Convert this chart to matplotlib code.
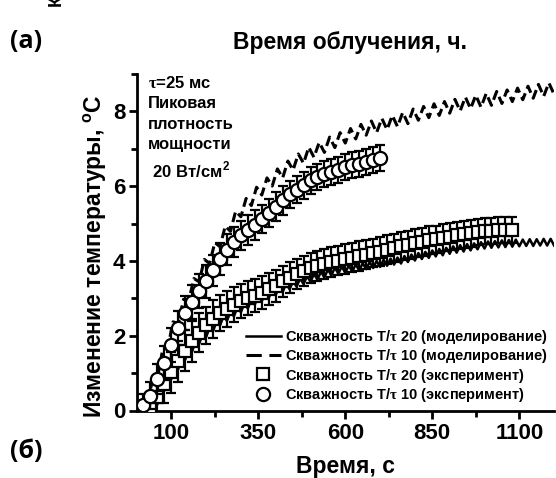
import numpy as np
import matplotlib
matplotlib.use('Agg')
import matplotlib.pyplot as plt
from matplotlib.lines import Line2D
from matplotlib.ticker import MultipleLocator, FixedLocator

plt.rcParams['font.family'] = ['Liberation Sans', 'DejaVu Sans']
plt.rcParams['font.weight'] = 'bold'
plt.rcParams['mathtext.fontset'] = 'custom'
plt.rcParams['mathtext.rm'] = 'Liberation Serif'
plt.rcParams['mathtext.bf'] = 'Liberation Sans:bold'

# --- experiment, T/tau = 10 (circles) ---
t_exp10 = [20, 40, 60, 80, 100, 120, 140, 160, 180, 200, 220, 240, 260, 280, 300,
           320, 340, 360, 380, 400, 420, 440, 460, 480, 500, 520, 540, 560, 580, 600,
           620, 640, 660, 680, 700]
dT_exp10 = [0.15, 0.40, 0.85, 1.27, 1.75, 2.20, 2.60, 2.90, 3.20, 3.45, 3.75, 4.05, 4.30, 4.50, 4.68,
            4.82, 4.95, 5.12, 5.28, 5.45, 5.62, 5.78, 5.90, 6.02, 6.15, 6.24, 6.32, 6.38, 6.44, 6.50,
            6.56, 6.60, 6.65, 6.70, 6.75]
err_exp10 = [0.30, 0.35, 0.40, 0.45, 0.45, 0.45, 0.45, 0.45, 0.45, 0.45, 0.42, 0.42, 0.42, 0.40, 0.40,
             0.40, 0.40, 0.38, 0.38, 0.38, 0.38, 0.36, 0.36, 0.36, 0.36, 0.35, 0.35, 0.35, 0.35, 0.35,
             0.35, 0.35, 0.35, 0.35, 0.35]

# --- experiment, T/tau = 20 (squares) ---
t_exp20 = [40, 60, 80, 100, 120, 140, 160, 180, 200, 220, 240, 260, 280, 300, 320, 340, 360, 380,
           400, 420, 440, 460, 480, 500, 520, 540, 560, 580, 600, 620, 640, 660, 680, 700, 720,
           740, 760, 780, 800, 820, 840, 860, 880, 900, 920, 940, 960, 980, 1000, 1020, 1040,
           1060, 1080]
dT_exp20 = [0.05, 0.35, 0.70, 1.02, 1.32, 1.60, 1.85, 2.08, 2.28, 2.45, 2.60, 2.72, 2.83, 2.92, 3.00,
            3.07, 3.15, 3.24, 3.33, 3.45, 3.55, 3.65, 3.73, 3.80, 3.86, 3.91, 3.96, 4.00, 4.05, 4.09,
            4.13, 4.17, 4.21, 4.25, 4.30, 4.35, 4.39, 4.43, 4.47, 4.51, 4.55, 4.58, 4.62, 4.65, 4.68,
            4.71, 4.74, 4.77, 4.79, 4.80, 4.82, 4.83, 4.83]
err_exp20 = [0.30, 0.40, 0.50, 0.55, 0.55, 0.55, 0.55, 0.52, 0.50, 0.50, 0.48, 0.48, 0.46, 0.45, 0.45,
             0.44, 0.44, 0.43, 0.43, 0.42, 0.42, 0.41, 0.41, 0.40, 0.40, 0.40, 0.40, 0.39, 0.39, 0.39,
             0.39, 0.38, 0.38, 0.38, 0.38, 0.38, 0.37, 0.37, 0.37, 0.37, 0.37, 0.36, 0.36, 0.36, 0.36,
             0.36, 0.36, 0.35, 0.35, 0.35, 0.35, 0.35, 0.35]

# --- simulation, T/tau = 20 (solid sawtooth), sampled every 10 s from 0 to 1200 ---
t_sim20 = np.arange(0, 1201, 10)
dT_sim20 = [0, 0, 0, 0, 0,
            0.19, 0.16, 0.54, 0.53, 0.87, 0.84, 1.16, 1.11, 1.42, 1.36, 1.65, 1.58, 1.86, 1.78, 2.05, 1.96,
            2.22, 2.12, 2.38, 2.27, 2.52, 2.40, 2.64, 2.52, 2.76, 2.63, 2.86, 2.73, 2.96, 2.83, 3.06, 2.92,
            3.15, 3.01, 3.23, 3.09, 3.31, 3.17, 3.39, 3.24, 3.46, 3.31, 3.53, 3.38, 3.59, 3.44, 3.65, 3.50,
            3.71, 3.56, 3.77, 3.61, 3.82, 3.66, 3.85, 3.68, 3.88, 3.71, 3.91, 3.74, 3.94, 3.78, 3.97, 3.81,
            4.00, 3.84, 4.03, 3.87, 4.06, 3.90, 4.09, 3.93, 4.13, 3.97, 4.17, 4.01, 4.21, 4.05, 4.24, 4.08,
            4.28, 4.12, 4.32, 4.15, 4.35, 4.19, 4.39, 4.22, 4.42, 4.25, 4.45, 4.28, 4.47, 4.31, 4.50, 4.33,
            4.52, 4.35, 4.53, 4.36, 4.55, 4.37, 4.56, 4.38, 4.57, 4.39, 4.57, 4.40, 4.58, 4.40, 4.58, 4.41,
            4.59, 4.41, 4.59, 4.41]

# --- simulation, T/tau = 10 (dashed sawtooth), sampled every 15 s from 0 to 1200 ---
t_sim10 = np.arange(0, 1201, 15)
dT_sim10 = [0, 0, 0.20, 0.76, 0.86, 1.62, 1.68, 2.37, 2.33, 2.97, 2.93, 3.53, 3.44, 4.04, 3.93,
            4.49, 4.38, 4.93, 4.79, 5.33, 5.18, 5.67, 5.48, 5.97, 5.76, 6.22, 6.00, 6.46, 6.22, 6.67,
            6.43, 6.86, 6.61, 7.04, 6.77, 7.17, 6.90, 7.31, 7.03, 7.43, 7.15, 7.54, 7.26, 7.65, 7.36,
            7.74, 7.43, 7.81, 7.51, 7.89, 7.59, 7.97, 7.67, 8.06, 7.76, 8.13, 7.83, 8.20, 7.89, 8.26,
            7.95, 8.32, 8.01, 8.38, 8.07, 8.43, 8.11, 8.48, 8.16, 8.53, 8.21, 8.57, 8.26, 8.62, 8.31,
            8.67, 8.35, 8.72, 8.40, 8.76, 8.45]

labels = ['Скважность T/$\\mathrm{\\tau}$ 20 (моделирование)',
          'Скважность T/$\\mathrm{\\tau}$ 10 (моделирование)',
          'Скважность T/$\\mathrm{\\tau}$ 20 (эксперимент)',
          'Скважность T/$\\mathrm{\\tau}$ 10 (эксперимент)']

W, H = 556, 478
fig = plt.figure(figsize=(W / 100, H / 100), dpi=100)


def fx(x):
    return x / W


def fy(y):
    return 1 - y / H


ax = fig.add_axes([fx(136.5), fy(410.5), 417.6 / W, 336.6 / H])

dash = (0, (3.2, 1.6))
ax.plot(t_sim20, dT_sim20, color='black', lw=1.8, zorder=2)
ax.plot(t_sim10, dT_sim10, color='black', lw=2.2, ls=dash, zorder=2)

ax.errorbar(t_exp20, dT_exp20, yerr=err_exp20, fmt='s', ms=8, mfc='white', mec='black', mew=1.6,
            ecolor='black', elinewidth=1.6, capsize=3.5, capthick=1.6, zorder=3)
ax.errorbar(t_exp10, dT_exp10, yerr=err_exp10, fmt='o', ms=9.5, mfc='white', mec='black', mew=1.6,
            ecolor='black', elinewidth=1.6, capsize=3.5, capthick=1.6, zorder=4)

ax.set_xlim(0, 1200)
ax.set_ylim(0, 9)
ax.xaxis.set_major_locator(FixedLocator([100, 350, 600, 850, 1100]))
ax.xaxis.set_minor_locator(FixedLocator([225, 475, 725, 975]))
ax.yaxis.set_major_locator(MultipleLocator(2))
ax.yaxis.set_minor_locator(MultipleLocator(1))
ax.tick_params(which='major', direction='out', length=6, width=2, labelsize=16)
ax.tick_params(which='minor', direction='out', length=4, width=2)
ax.tick_params(axis='x', pad=3)
ax.tick_params(axis='y', pad=2)
for lab in ax.get_xticklabels() + ax.get_yticklabels():
    lab.set_fontweight('bold')
for s in ['top', 'right']:
    ax.spines[s].set_visible(False)
for s in ['left', 'bottom']:
    ax.spines[s].set_linewidth(2)

fig.text(fx(148), fy(75), '$\\mathrm{\\tau}$=25 мс\nПиковая\nплотность\nмощности\n 20 Вт/см$^\\mathbf{2}$',
         fontsize=12, fontweight='bold', va='top', ha='left', linespacing=1.45)

handles = [Line2D([], [], color='black', lw=1.8),
           Line2D([], [], color='black', lw=2.2, ls=(0, (5, 2.5))),
           Line2D([], [], ls='none', marker='s', ms=8, mfc='white', mec='black', mew=1.6),
           Line2D([], [], ls='none', marker='o', ms=9.5, mfc='white', mec='black', mew=1.6)]
leg = fig.legend(handles, labels, loc='lower right', bbox_to_anchor=(fx(548), fy(404)),
                 frameon=False, fontsize=10.5, handlelength=2.4, handletextpad=0.3,
                 labelspacing=0.1, borderpad=0, borderaxespad=0)
for t in leg.get_texts():
    t.set_fontweight('bold')

fig.text(fx(95), fy(256), 'Изменение температуры, $^\\mathbf{o}$C', rotation=90,
         fontsize=16.5, fontweight='bold', ha='center', va='center')
fig.text(fx(350), fy(42), 'Время облучения, ч.', fontsize=16.5, fontweight='bold',
         ha='center', va='center')
fig.text(fx(346), fy(466), 'Время, с', fontsize=16.5, fontweight='bold',
         ha='center', va='center')
fig.text(fx(26), fy(42), '(a)', fontsize=18, fontweight='bold', family='Open Sans',
         ha='center', va='center')
fig.text(fx(26), fy(452), '(б)', fontsize=18, fontweight='bold', family='Open Sans',
         ha='center', va='center')
fig.text(fx(56), fy(1), 'К', rotation=90, fontsize=13, fontweight='bold',
         ha='center', va='center')

fig.savefig('out.png', dpi=100)
